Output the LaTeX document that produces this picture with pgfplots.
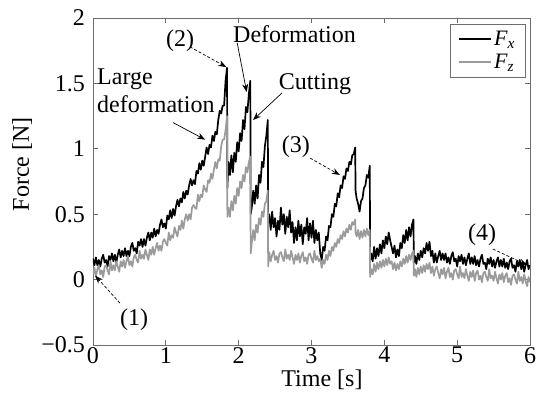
\documentclass[border=0pt]{standalone}
\usepackage{fontspec}
\setmainfont{Liberation Serif}
\usepackage{pgfplots}
\usepackage{pgfplotstable}
\pgfplotsset{compat=1.18}
\usetikzlibrary{arrows.meta}
\definecolor{fzgray}{RGB}{155,155,155}
\definecolor{axgray}{RGB}{110,110,110}
\pgfplotstableread{
t fx fz
0.00 0.16 0.04
0.02 0.11 0.09
0.04 0.17 0.02
0.06 0.11 0.08
0.08 0.15 0.11
0.10 0.10 0.04
0.12 0.16 0.07
0.14 0.19 0.02
0.16 0.13 0.10
0.18 0.15 0.11
0.20 0.10 0.07
0.22 0.18 0.04
0.24 0.15 0.14
0.26 0.20 0.07
0.28 0.14 0.11
0.30 0.19 0.07
0.32 0.13 0.14
0.34 0.19 0.10
0.36 0.23 0.06
0.38 0.17 0.14
0.40 0.22 0.10
0.42 0.18 0.15
0.44 0.24 0.09
0.46 0.18 0.14
0.48 0.22 0.18
0.50 0.18 0.11
0.52 0.25 0.14
0.54 0.28 0.10
0.56 0.22 0.17
0.58 0.24 0.19
0.60 0.20 0.15
0.62 0.29 0.13
0.64 0.26 0.22
0.66 0.31 0.16
0.68 0.25 0.19
0.70 0.31 0.16
0.72 0.26 0.23
0.74 0.32 0.19
0.76 0.36 0.15
0.78 0.30 0.23
0.80 0.36 0.19
0.82 0.32 0.25
0.84 0.39 0.19
0.86 0.33 0.24
0.88 0.38 0.28
0.90 0.35 0.22
0.92 0.42 0.26
0.94 0.46 0.22
0.96 0.40 0.29
0.98 0.43 0.31
1.00 0.39 0.28
1.02 0.49 0.26
1.04 0.46 0.36
1.06 0.53 0.30
1.08 0.47 0.34
1.10 0.54 0.32
1.12 0.49 0.40
1.14 0.56 0.36
1.16 0.61 0.33
1.18 0.56 0.41
1.20 0.62 0.38
1.22 0.59 0.45
1.24 0.67 0.39
1.26 0.62 0.46
1.28 0.68 0.50
1.30 0.65 0.45
1.32 0.72 0.50
1.34 0.77 0.46
1.36 0.72 0.55
1.38 0.76 0.57
1.40 0.73 0.55
1.42 0.83 0.54
1.44 0.81 0.65
1.46 0.89 0.60
1.48 0.84 0.65
1.50 0.91 0.63
1.52 0.87 0.72
1.54 0.94 0.69
1.56 1.01 0.67
1.58 0.96 0.76
1.60 1.03 0.74
1.62 1.01 0.81
1.64 1.10 0.77
1.66 1.06 0.84
1.68 1.13 0.90
1.70 1.11 0.85
1.72 1.22 0.92
1.74 1.29 0.91
1.76 1.27 1.02
1.78 1.33 1.07
1.80 1.33 1.07
1.82 1.52 1.14
1.84 1.62 1.25
1.845 0.70 0.48
1.86 0.90 0.55
1.88 0.80 0.48
1.90 0.95 0.60
1.92 0.82 0.53
1.94 0.97 0.64
1.96 0.90 0.58
1.98 1.05 0.70
2.00 0.98 0.64
2.02 1.12 0.75
2.04 1.06 0.70
2.06 1.22 0.80
2.08 1.15 0.75
2.10 1.32 0.86
2.12 1.28 0.82
2.14 1.42 0.90
2.16 1.52 0.94
2.165 0.50 0.20
2.18 0.55 0.28
2.20 0.68 0.38
2.22 0.58 0.30
2.24 0.72 0.42
2.26 0.62 0.36
2.28 0.80 0.47
2.30 0.74 0.42
2.32 0.90 0.52
2.34 0.86 0.48
2.36 1.02 0.58
2.38 1.10 0.60
2.40 1.22 0.68
2.405 0.45 0.10
2.42 0.50 0.21
2.44 0.38 0.14
2.46 0.52 0.19
2.48 0.40 0.22
2.50 0.47 0.15
2.52 0.33 0.18
2.54 0.45 0.13
2.56 0.38 0.20
2.58 0.55 0.21
2.60 0.42 0.17
2.62 0.50 0.14
2.64 0.35 0.23
2.66 0.48 0.16
2.68 0.40 0.19
2.70 0.53 0.15
2.72 0.36 0.22
2.74 0.44 0.17
2.76 0.28 0.12
2.78 0.40 0.19
2.80 0.30 0.15
2.82 0.45 0.20
2.84 0.33 0.13
2.86 0.42 0.18
2.88 0.27 0.21
2.90 0.40 0.14
2.92 0.35 0.17
2.94 0.47 0.12
2.96 0.30 0.19
2.98 0.43 0.20
3.00 0.32 0.16
3.02 0.45 0.13
3.04 0.28 0.22
3.06 0.38 0.15
3.08 0.30 0.18
3.10 0.36 0.14
3.12 0.20 0.16
3.14 0.15 0.09
3.16 0.25 0.15
3.18 0.22 0.12
3.20 0.33 0.19
3.22 0.30 0.15
3.24 0.41 0.22
3.26 0.40 0.18
3.28 0.50 0.25
3.30 0.48 0.22
3.32 0.58 0.28
3.34 0.56 0.25
3.36 0.66 0.31
3.38 0.63 0.28
3.40 0.72 0.34
3.42 0.70 0.31
3.44 0.79 0.37
3.46 0.77 0.33
3.48 0.85 0.39
3.50 0.83 0.36
3.52 0.90 0.42
3.54 0.88 0.38
3.56 0.95 0.44
3.58 0.96 0.42
3.60 1.01 0.46
3.605 0.68 0.36
3.62 0.62 0.33
3.64 0.58 0.38
3.66 0.52 0.31
3.68 0.60 0.37
3.70 0.62 0.32
3.72 0.70 0.38
3.74 0.72 0.33
3.76 0.80 0.39
3.78 0.78 0.34
3.80 0.87 0.38
3.805 0.15 0.02
3.82 0.20 0.08
3.84 0.14 0.04
3.86 0.25 0.12
3.88 0.16 0.06
3.90 0.24 0.13
3.92 0.18 0.08
3.94 0.27 0.14
3.96 0.20 0.09
3.98 0.30 0.15
4.00 0.24 0.10
4.02 0.33 0.16
4.04 0.27 0.11
4.06 0.36 0.17
4.08 0.30 0.12
4.10 0.25 0.14
4.12 0.20 0.08
4.14 0.26 0.13
4.16 0.17 0.07
4.18 0.23 0.12
4.20 0.18 0.08
4.22 0.28 0.14
4.24 0.24 0.10
4.26 0.34 0.16
4.28 0.28 0.12
4.30 0.38 0.18
4.32 0.30 0.13
4.34 0.40 0.19
4.36 0.33 0.15
4.38 0.42 0.20
4.40 0.46 0.22
4.405 0.13 0.03
4.42 0.18 0.08
4.44 0.12 0.02
4.46 0.20 0.09
4.48 0.15 0.04
4.50 0.22 0.10
4.52 0.17 0.05
4.54 0.24 0.11
4.56 0.20 0.06
4.58 0.28 0.12
4.60 0.22 0.08
4.62 0.29 0.13
4.64 0.18 0.05
4.66 0.22 0.10
4.68 0.13 0.03
4.70 0.20 0.08
4.72 0.13 0.10
4.74 0.18 0.05
4.76 0.22 0.01
4.78 0.15 0.08
4.80 0.20 0.04
4.82 0.15 0.09
4.84 0.20 0.01
4.86 0.13 0.06
4.88 0.17 0.09
4.90 0.12 0.02
4.92 0.18 0.05
4.94 0.21 0.00
4.96 0.14 0.07
4.98 0.16 0.08
5.00 0.10 0.04
5.02 0.18 0.01
5.04 0.14 0.10
5.06 0.19 0.02
5.08 0.12 0.05
5.10 0.17 0.01
5.12 0.11 0.08
5.14 0.16 0.03
5.16 0.20 -0.01
5.18 0.12 0.06
5.20 0.17 0.02
5.22 0.12 0.07
5.24 0.18 -0.01
5.26 0.11 0.05
5.28 0.15 0.07
5.30 0.10 0.00
5.32 0.16 0.03
5.34 0.19 -0.02
5.36 0.12 0.05
5.38 0.13 0.06
5.40 0.08 0.02
5.42 0.16 -0.01
5.44 0.12 0.08
5.46 0.17 0.01
5.48 0.10 0.03
5.50 0.15 -0.01
5.52 0.09 0.06
5.54 0.14 0.01
5.56 0.17 -0.03
5.58 0.10 0.04
5.60 0.15 0.00
5.62 0.10 0.05
5.64 0.16 -0.02
5.66 0.09 0.03
5.68 0.13 0.05
5.70 0.08 -0.02
5.72 0.14 0.01
5.74 0.16 -0.04
5.76 0.09 0.03
5.78 0.11 0.04
5.80 0.06 0.00
5.82 0.14 -0.03
5.84 0.10 0.06
5.86 0.15 -0.01
5.88 0.08 0.02
5.90 0.13 -0.03
5.92 0.06 0.04
5.94 0.11 -0.01
5.96 0.15 -0.05
5.98 0.08 0.02
6.00 0.11 -0.02
}\forcedata

\begin{document}
\begin{tikzpicture}[font=\fontsize{24}{28}\selectfont]
\useasboundingbox (-93pt,-49pt) rectangle (446pt,345pt);
\begin{axis}[
  at={(0,0)}, anchor=south west,
  scale only axis, width=437pt, height=327pt,
  xmin=0, xmax=6, ymin=-0.5, ymax=2,
  xtick={0,1,2,3,4,5,6}, xticklabels={0,1,2,3,4,5,6},
  ytick={-0.5,0,0.5,1,1.5,2}, yticklabels={−0.5,0,0.5,1,1.5,2},
  xtick pos=both, ytick pos=both, tick align=inside,
  major tick length=5pt,
  axis line style={axgray, line width=0.8pt},
  every tick/.style={axgray, line width=0.8pt},
  tick label style={font=\fontsize{24}{28}\selectfont, inner sep=1pt},
  xticklabel style={yshift=-1pt},
  yticklabel style={xshift=-7pt},
  xlabel={Time [s]},
  ylabel={Force [N]},
  label style={font=\fontsize{24}{28}\selectfont},
  xlabel style={at={(axis description cs:0.524,-0.107)}, anchor=center},
  ylabel style={at={(axis description cs:-0.162,0.553)}, anchor=center},
  clip mode=individual,
  legend style={at={(0.989,0.982)}, anchor=north east, draw=axgray,
    font=\fontsize{22}{24}\selectfont, inner xsep=8pt, inner ysep=5pt, row sep=3pt,
    cells={anchor=west}},
  legend image code/.code={\draw[#1, line width=1.4pt] (0pt,0pt) -- (32pt,0pt);},
]
\addplot[black, line width=1.7pt, line join=round] table[x=t, y=fx] {\forcedata};
\addlegendentry{\textit{F}\textsubscript{\textit{x}}}
\addplot[fzgray, line width=1.7pt, line join=round] table[x=t, y=fz] {\forcedata};
\addlegendentry{\textit{F}\textsubscript{\textit{z}}}

\tikzset{ann/.style={font=\fontsize{24}{28}\selectfont, inner sep=0pt},
  arr/.style={-{Stealth[length=8pt,width=6pt]}, line width=0.7pt},
  darr/.style={arr, dash pattern=on 3pt off 2pt}}
\node[ann] at (axis cs:1.195,1.83) {(2)};
\draw[darr] (axis cs:1.33,1.78) -- (axis cs:1.83,1.625);
\node[ann, anchor=base west] at (axis cs:0.055,1.488) {Large};
\node[ann, anchor=base west] at (axis cs:0.055,1.274) {deformation};
\draw[arr] (axis cs:1.10,1.20) -- (axis cs:1.54,1.07);
\node[ann, anchor=base] at (axis cs:2.767,1.809) {Deformation};
\draw[arr] (axis cs:1.98,1.81) -- (axis cs:2.11,1.434);
\node[ann, anchor=base] at (axis cs:3.048,1.45) {Cutting};
\draw[arr] (axis cs:2.595,1.427) -- (axis cs:2.197,1.22);
\node[ann] at (axis cs:2.787,1.014) {(3)};
\draw[darr] (axis cs:2.98,0.929) -- (axis cs:3.39,0.80);
\node[ann] at (axis cs:5.341,0.340) {(4)};
\draw[darr] (axis cs:5.49,0.234) -- (axis cs:5.96,0.112);
\node[ann] at (axis cs:0.563,-0.309) {(1)};
\draw[darr] (axis cs:0.37,-0.18) -- (axis cs:0.03,0.03);
\end{axis}
\end{tikzpicture}
\end{document}
